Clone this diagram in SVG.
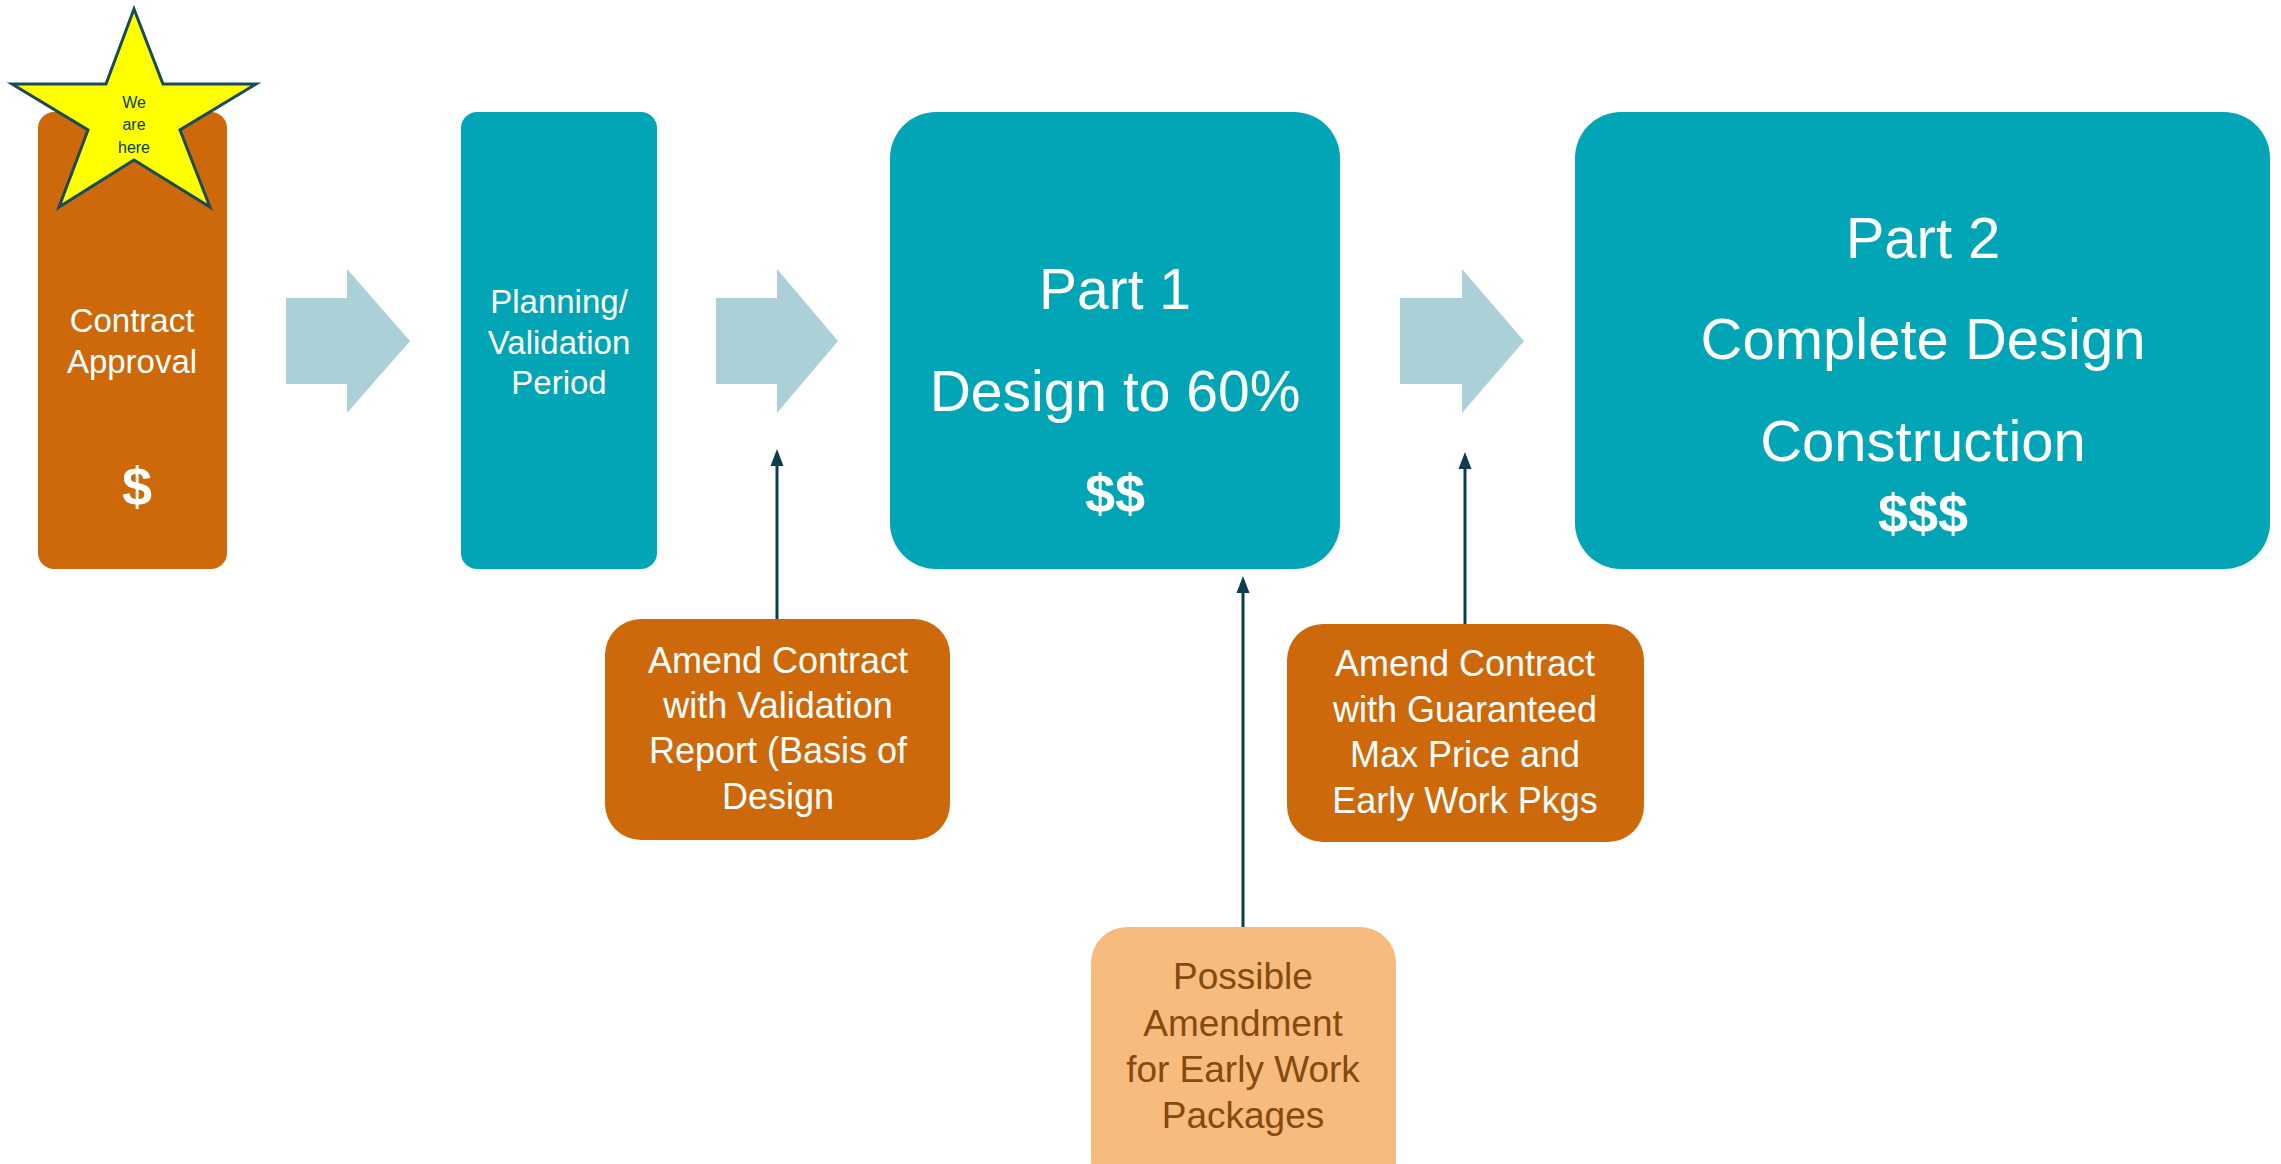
<svg xmlns="http://www.w3.org/2000/svg" width="2281" height="1164" viewBox="0 0 2281 1164">
<style>
.t{font-family:"Liberation Sans",Arial,sans-serif;text-anchor:middle;fill:#ffffff}
.b{font-weight:bold}
.orange{fill:#CD690A}
.teal{fill:#02A5B6}
.light{fill:#F7BB7E}
.arrow{fill:#ABD0D8}
.conn{stroke:#0D3D4E;stroke-width:3;fill:none}
.dark{fill:#0D3D4E}
.brown{fill:#844A0E}
</style>
<defs>
<marker id="ah" markerUnits="userSpaceOnUse" markerWidth="18" markerHeight="16" refX="9" refY="8" orient="auto" viewBox="0 0 18 16">
<path d="M0,1.5 L17,8 L0,14.5 Z" fill="#0D3D4E"/>
</marker>
</defs>
<rect width="2281" height="1164" fill="#ffffff"/>

<g id="arrows">
<polygon class="arrow" points="286,298 347,298 347,269 410,341 347,413 347,384 286,384"/>
<polygon class="arrow" points="716,298 777,298 777,269 838,341 777,413 777,384 716,384"/>
<polygon class="arrow" points="1400,298 1462,298 1462,269 1524,341 1462,413 1462,384 1400,384"/>
</g>

<g id="contract-approval">
<rect class="orange" x="38" y="112" width="189" height="457" rx="16"/>
<text class="t" x="132" y="332" font-size="33">Contract</text>
<text class="t" x="132" y="373" font-size="33">Approval</text>
<text class="t b" x="137" y="505" font-size="54">$</text>
</g>

<g id="star">
<polygon points="134,9 163,84 256,84 180,130 210,207 134,160 59,207 88,130 12,84 106,84" fill="#FFFF00" stroke="#1B4A5A" stroke-width="3"/>
<text class="t dark" x="134" y="108" font-size="16">We</text>
<text class="t dark" x="134" y="130" font-size="16">are</text>
<text class="t dark" x="134" y="153" font-size="16">here</text>
</g>

<g id="planning">
<rect class="teal" x="461" y="112" width="196" height="457" rx="16"/>
<text class="t" x="559" y="313" font-size="33">Planning/</text>
<text class="t" x="559" y="354" font-size="33">Validation</text>
<text class="t" x="559" y="394" font-size="33">Period</text>
</g>

<g id="part1">
<rect class="teal" x="890" y="112" width="450" height="457" rx="46"/>
<text class="t" x="1115" y="309" font-size="57">Part 1</text>
<text class="t" x="1115" y="411" font-size="57">Design to 60%</text>
<text class="t b" x="1115" y="512" font-size="54">$$</text>
</g>

<g id="part2">
<rect class="teal" x="1575" y="112" width="695" height="457" rx="46"/>
<text class="t" x="1923" y="258" font-size="58">Part 2</text>
<text class="t" x="1923" y="359" font-size="58">Complete Design</text>
<text class="t" x="1923" y="461" font-size="58">Construction</text>
<text class="t b" x="1923" y="532" font-size="54">$$$</text>
</g>

<g id="connectors">
<line class="conn" x1="777" y1="619" x2="777" y2="457" marker-end="url(#ah)"/>
<line class="conn" x1="1243" y1="927" x2="1243" y2="584" marker-end="url(#ah)"/>
<line class="conn" x1="1465" y1="637" x2="1465" y2="460" marker-end="url(#ah)"/>
</g>

<g id="amend-validation">
<rect class="orange" x="605" y="619" width="345" height="221" rx="36"/>
<text class="t" x="778" y="673" font-size="36">Amend Contract</text>
<text class="t" x="778" y="718" font-size="36">with Validation</text>
<text class="t" x="778" y="763" font-size="36">Report (Basis of</text>
<text class="t" x="778" y="809" font-size="36">Design</text>
</g>

<g id="amend-gmp">
<rect class="orange" x="1287" y="624" width="357" height="218" rx="36"/>
<text class="t" x="1465" y="676" font-size="36">Amend Contract</text>
<text class="t" x="1465" y="722" font-size="36">with Guaranteed</text>
<text class="t" x="1465" y="767" font-size="36">Max Price and</text>
<text class="t" x="1465" y="813" font-size="36">Early Work Pkgs</text>
</g>

<g id="possible-amendment">
<rect class="light" x="1091" y="927" width="305" height="270" rx="36"/>
<text class="t brown" x="1243" y="989" font-size="37">Possible</text>
<text class="t brown" x="1243" y="1036" font-size="37">Amendment</text>
<text class="t brown" x="1243" y="1082" font-size="37">for Early Work</text>
<text class="t brown" x="1243" y="1128" font-size="37">Packages</text>
</g>
</svg>
